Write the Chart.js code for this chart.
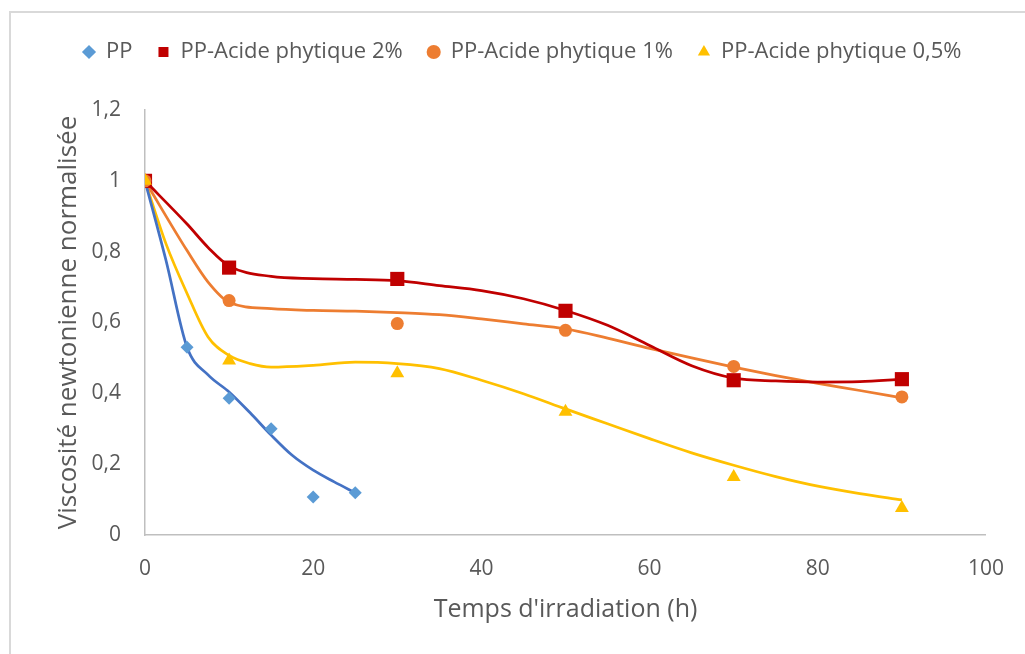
<!DOCTYPE html>
<html>
<head>
<meta charset="utf-8">
<script src="https://cdn.jsdelivr.net/npm/chart.js@4.4.1/dist/chart.umd.min.js"></script>
<style>
  html, body { margin: 0; padding: 0; background: #ffffff; }
  #wrap { position: relative; width: 1025px; height: 654px; overflow: hidden; }
  #frame { position: absolute; left: 9px; top: 11px; width: 1100px; height: 700px;
           border-left: 2px solid #d9d9d9; border-top: 2px solid #d9d9d9; }
  canvas { position: absolute; left: 0; top: 0; }
</style>
</head>
<body>
<div id="wrap"><div id="frame"></div><canvas id="c" width="1025" height="654"></canvas></div>
<script>
// ---- Series names ----
const seriesNames = ['PP', 'PP-Acide phytique 2%', 'PP-Acide phytique 1%', 'PP-Acide phytique 0,5%'];

// ---- Measured points (markers) ----
const ppX   = [0, 5, 10, 15, 20, 25];
const ppY   = [1, 0.53, 0.386, 0.30, 0.107, 0.119];
const ap2X  = [0, 10, 30, 50, 70, 90];
const ap2Y  = [1, 0.755, 0.723, 0.633, 0.437, 0.44];
const ap1X  = [0, 10, 30, 50, 70, 90];
const ap1Y  = [1, 0.662, 0.597, 0.578, 0.476, 0.39];
const ap05X = [0, 10, 30, 50, 70, 90];
const ap05Y = [1, 0.493, 0.457, 0.348, 0.164, 0.076];

// ---- Smoothed curves ----
const ppCurveX   = [0, 2.5, 5, 7.5, 10, 12.5, 15, 17.5, 20, 22.5, 25];
const ppCurveY   = [1, 0.775, 0.53, 0.452, 0.404, 0.345, 0.282, 0.225, 0.183, 0.15, 0.119];
const ap2CurveX  = [0, 5, 7.5, 10, 15, 20, 25, 30, 35, 40, 45, 50, 55, 60, 65, 70, 75, 80, 85, 90];
const ap2CurveY  = [1, 0.878, 0.812, 0.76, 0.73, 0.724, 0.722, 0.718, 0.704, 0.69, 0.667, 0.634, 0.592, 0.535, 0.478, 0.443, 0.435, 0.432, 0.433, 0.44];
const ap1CurveX  = [0, 5, 7.5, 10, 15, 20, 25, 30, 35, 40, 45, 50, 55, 60, 65, 70, 75, 80, 85, 90];
const ap1CurveY  = [1, 0.803, 0.714, 0.657, 0.639, 0.634, 0.632, 0.628, 0.622, 0.61, 0.596, 0.582, 0.556, 0.527, 0.50, 0.474, 0.45, 0.428, 0.408, 0.387];
const ap05CurveX = [0, 2.5, 5, 7.5, 10, 12.5, 15, 20, 25, 30, 35, 40, 45, 50, 55, 60, 65, 70, 75, 80, 85, 90];
const ap05CurveY = [1, 0.822, 0.682, 0.559, 0.507, 0.484, 0.474, 0.479, 0.488, 0.484, 0.47, 0.437, 0.399, 0.356, 0.314, 0.272, 0.232, 0.197, 0.165, 0.138, 0.117, 0.099];

// ---- Axis ticks / titles ----
const xTitle = "Temps d'irradiation (h)";
const yTitle = 'Viscosité newtonienne normalisée';
const xMin = 0, xMax = 100, xStep = 20;
const yMin = 0, yMax = 1.2, yStep = 0.2;

const markerColors = ['#5B9BD5', '#C00000', '#ED7D31', '#FFC000'];
const lineColors   = ['#4472C4', '#C00000', '#ED7D31', '#FFC000'];
const markerStyles = ['rectRot', 'rect', 'circle', 'triangle'];
const markerRadii  = [6.5, 10, 6.5, 8];

const toPts = (xs, ys) => xs.map((x, i) => ({ x: x, y: ys[i] }));
const markerSets = [[ppX, ppY], [ap2X, ap2Y], [ap1X, ap1Y], [ap05X, ap05Y]];
const curveSets  = [[ppCurveX, ppCurveY], [ap2CurveX, ap2CurveY], [ap1CurveX, ap1CurveY], [ap05CurveX, ap05CurveY]];

const textColor = '#595959';
const fam = "'Open Sans', 'Liberation Sans', sans-serif";

const datasets = [];
markerSets.forEach((s, i) => {
  datasets.push({
    label: seriesNames[i],
    data: toPts(s[0], s[1]),
    showLine: false,
    pointStyle: markerStyles[i],
    pointRadius: markerRadii[i],
    pointHoverRadius: markerRadii[i],
    backgroundColor: markerColors[i],
    borderColor: markerColors[i],
    pointBorderWidth: 0,
    order: 4 - i
  });
});
curveSets.forEach((s, i) => {
  datasets.push({
    label: seriesNames[i] + ' (courbe)',
    data: toPts(s[0], s[1]),
    showLine: true,
    pointRadius: 0,
    pointHoverRadius: 0,
    borderColor: lineColors[i],
    backgroundColor: lineColors[i],
    borderWidth: 2.75,
    cubicInterpolationMode: 'monotone',
    fill: false,
    order: 10
  });
});

new Chart(document.getElementById('c'), {
  type: 'scatter',
  data: { datasets: datasets },
  options: {
    responsive: false,
    animation: false,
    layout: { padding: { left: 58, right: 35, top: 16, bottom: 0 } },
    plugins: {
      tooltip: { enabled: false },
      title: {
        display: true, text: ' ', weight: 500,
        font: { size: 10 }, padding: { top: 0, bottom: 25 }
      },
      legend: {
        display: true,
        position: 'top',
        align: 'start',
        labels: {
          usePointStyle: true,
          boxWidth: 12,
          boxHeight: 10,
          padding: 25,
          color: textColor,
          font: { family: fam, size: 22 },
          filter: (item) => item.datasetIndex < 4,
          sort: (a, b) => a.datasetIndex - b.datasetIndex
        }
      }
    },
    scales: {
      x: {
        type: 'linear',
        min: xMin, max: xMax,
        grid: { display: false, drawTicks: false },
        border: { display: true, color: '#BFBFBF', width: 1.5 },
        ticks: { stepSize: xStep, padding: 21, maxRotation: 0, color: textColor, font: { family: fam, size: 21 } },
        title: { display: true, text: xTitle, color: textColor, font: { family: fam, size: 25 }, padding: { top: 0, bottom: 29 } },
        afterFit: (scale) => { scale.height = 119; }
      },
      y: {
        type: 'linear',
        min: yMin, max: yMax,
        grid: { display: false, drawTicks: false },
        border: { display: true, color: '#BFBFBF', width: 1.5 },
        ticks: {
          stepSize: yStep, padding: 24, autoSkip: false, color: textColor,
          font: { family: fam, size: 21 },
          callback: (v) => String(Math.round(v * 10) / 10).replace('.', ',')
        },
        title: { display: true, text: yTitle, color: textColor, font: { family: fam, size: 26 }, padding: { top: -5, bottom: 0 } },
        afterFit: (scale) => { scale.width = 87; }
      }
    }
  }
});
</script>
</body>
</html>
